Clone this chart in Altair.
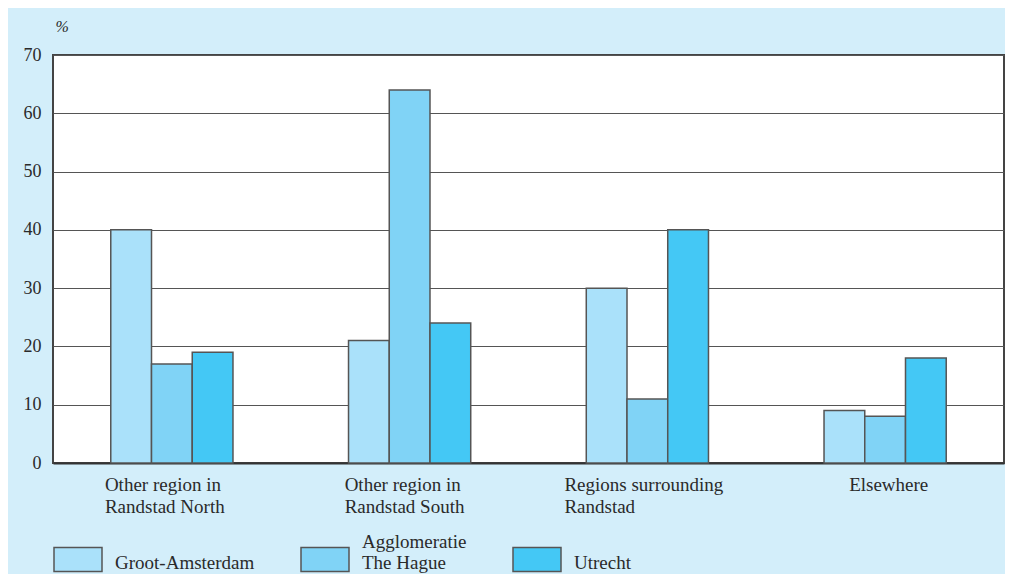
import altair as alt
import pandas as pd

regions = [
    "Other region in\nRandstad North",
    "Other region in\nRandstad South",
    "Regions surrounding\nRandstad",
    "Elsewhere",
]
series = ["Groot-Amsterdam", "Agglomeratie\nThe Hague", "Utrecht"]
groot_amsterdam = [40, 21, 30, 9]
agglomeratie_hague = [17, 64, 11, 8]
utrecht = [19, 24, 40, 18]
y_ticks = [0, 10, 20, 30, 40, 50, 60, 70]
colors = ["#aae1fa", "#80d3f6", "#44c8f5"]

rows = []
for s, vals in zip(series, [groot_amsterdam, agglomeratie_hague, utrecht]):
    for r, v in zip(regions, vals):
        rows.append({"region": r, "series": s, "value": v})
df = pd.DataFrame(rows)

FONT = "Liberation Serif"
TXT = "#2a2a2a"


def is_label(name):
    return "datum.value === " + repr(name).replace("\n", "\\n")


label_offset = {
    "condition": [
        {"test": is_label(regions[1]), "value": -65},
        {"test": is_label(regions[2]), "value": -83},
        {"test": is_label(regions[3]), "value": -36},
    ],
    "value": -67,
}

chart = (
    alt.Chart(df)
    .mark_bar(stroke="#555555", strokeWidth=1.5)
    .encode(
        x=alt.X(
            "region:N",
            sort=regions,
            scale=alt.Scale(domain=regions, paddingInner=0.486, paddingOuter=0.243),
            axis=alt.Axis(
                title=None,
                labelAngle=0,
                labelExpr="split(datum.label, '\\n')",
                labelAlign="left",
                labelBaseline="top",
                labelOffset=label_offset,
                labelPadding=12,
                labelLineHeight=22,
                labelFontSize=19,
                ticks=False,
                domainColor="#333333",
                domainWidth=2,
                grid=False,
            ),
        ),
        xOffset=alt.XOffset(
            "series:N", sort=series, scale=alt.Scale(domain=series, paddingInner=0, paddingOuter=0)
        ),
        y=alt.Y(
            "value:Q",
            scale=alt.Scale(domain=[0, 70], nice=False),
            axis=alt.Axis(
                values=y_ticks,
                title="%",
                titleAngle=0,
                titleX=2,
                titleY=-29,
                titleAlign="left",
                titleBaseline="middle",
                titleFont=FONT,
                titleFontStyle="italic",
                titleFontWeight="normal",
                titleFontSize=16,
                titleColor=TXT,
                ticks=False,
                domain=False,
                labelPadding=12,
                labelFontSize=18,
                gridColor="#555555",
                gridWidth=1,
            ),
        ),
        color=alt.Color(
            "series:N",
            sort=series,
            scale=alt.Scale(domain=series, range=colors),
            legend=alt.Legend(
                title=None,
                orient="none",
                legendX=0,
                legendY=472,
                direction="horizontal",
                symbolType="M-1,-0.208H1V0.792H-1Z",
                symbolSize=2304,
                symbolStrokeColor="#555555",
                symbolStrokeWidth=1.5,
                symbolOpacity=1,
                labelExpr="indexof(datum.label, '\\n') >= 0 ? split(datum.label, '\\n') : ['', datum.label]",
                labelFont=FONT,
                labelFontSize=19,
                labelColor=TXT,
                labelBaseline="bottom",
                labelLimit=0,
                labelOffset=12,
                columnPadding=43,
            ),
        ),
    )
    .properties(
        width=951,
        height=408,
        background="#d3eefa",
        padding={"left": 45, "top": 47, "right": 1, "bottom": 111},
        autosize=alt.AutoSizeParams(type="none"),
    )
    .configure_view(fill="white", stroke="#444444", strokeWidth=2)
    .configure_axis(labelFont=FONT, labelColor=TXT)
)

chart.save("out.html", embed_options={"renderer": "svg", "actions": False})
